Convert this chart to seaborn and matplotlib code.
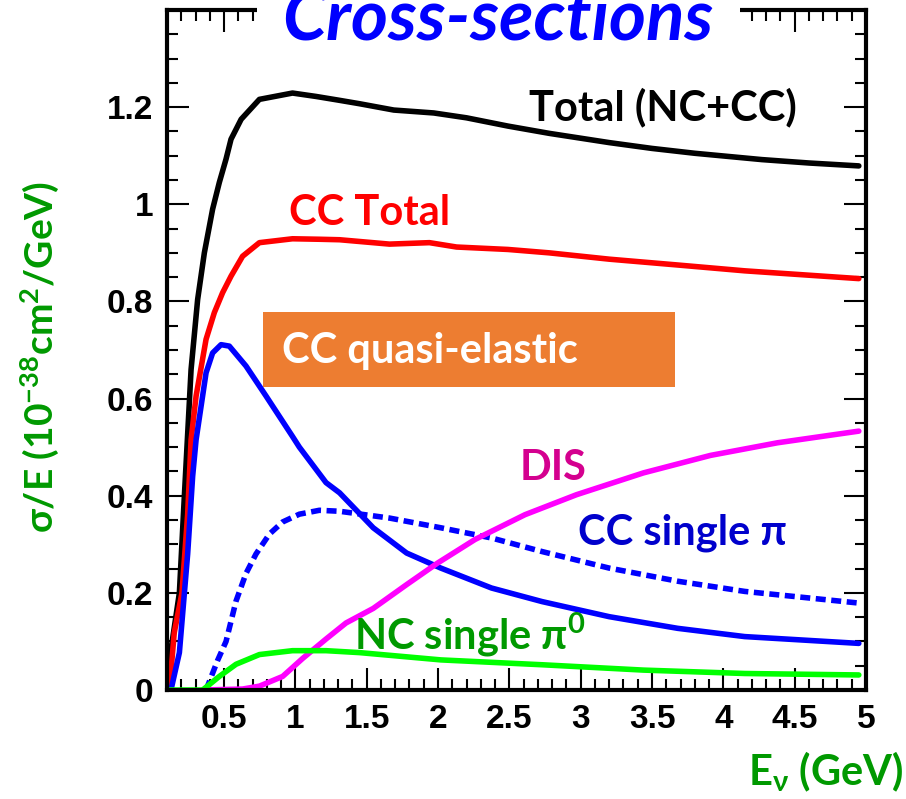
import matplotlib
matplotlib.use("Agg")
import matplotlib.pyplot as plt
import numpy as np
import pandas as pd
import seaborn as sns
from matplotlib.ticker import MultipleLocator, FuncFormatter
from matplotlib.patches import Rectangle

# neutrino cross-sections, sigma/E in 1e-38 cm^2/GeV
total_x = [0.10, 0.117, 0.187, 0.222, 0.269, 0.315, 0.362, 0.42, 0.467, 0.514, 0.549, 0.62, 0.748,
           0.98, 1.145, 1.31, 1.45, 1.69, 1.97, 2.2, 2.49, 2.78, 3.2, 3.5, 3.8, 4.27, 4.6, 4.95]
total_y = [0.03, 0.061, 0.20, 0.40, 0.66, 0.804, 0.90, 0.99, 1.045, 1.093, 1.134, 1.175, 1.216,
           1.229, 1.222, 1.214, 1.207, 1.194, 1.188, 1.178, 1.161, 1.146, 1.127, 1.115, 1.105, 1.092, 1.085, 1.079]

cc_x = [0.117, 0.151, 0.205, 0.245, 0.269, 0.304, 0.374, 0.432, 0.49, 0.549, 0.63, 0.748, 0.98,
        1.168, 1.31, 1.66, 1.94, 2.13, 2.49, 2.78, 3.2, 3.68, 4.15, 4.95]
cc_y = [0.0, 0.118, 0.20, 0.362, 0.515, 0.605, 0.722, 0.777, 0.818, 0.852, 0.893, 0.921, 0.929,
        0.928, 0.927, 0.918, 0.921, 0.912, 0.907, 0.90, 0.887, 0.875, 0.863, 0.847]

qe_x = [0.128, 0.187, 0.245, 0.28, 0.304, 0.374, 0.42, 0.479, 0.537, 0.654, 0.795, 0.864, 0.98,
        1.028, 1.215, 1.31, 1.546, 1.78, 2.02, 2.375, 2.73, 3.2, 3.68, 4.15, 4.95]
qe_y = [0.0, 0.077, 0.28, 0.44, 0.515, 0.653, 0.694, 0.711, 0.708, 0.667, 0.605, 0.574, 0.522,
        0.50, 0.427, 0.406, 0.334, 0.282, 0.251, 0.21, 0.182, 0.151, 0.127, 0.11, 0.096]

pi_x = [0.374, 0.455, 0.514, 0.584, 0.654, 0.724, 0.818, 0.911, 1.028, 1.168, 1.31, 1.66,
        2.02, 2.375, 2.73, 3.2, 3.68, 4.15, 4.95]
pi_y = [0.0, 0.061, 0.10, 0.183, 0.24, 0.28, 0.321, 0.346, 0.362, 0.37, 0.368, 0.354,
        0.334, 0.313, 0.285, 0.251, 0.224, 0.203, 0.179]

dis_x = [0.35, 0.63, 0.748, 0.911, 1.051, 1.215, 1.355, 1.546, 1.78, 1.995, 2.26, 2.61,
         2.97, 3.44, 3.91, 4.38, 4.95]
dis_y = [0.0, 0.002, 0.008, 0.028, 0.065, 0.105, 0.138, 0.168, 0.217, 0.261, 0.31, 0.361,
         0.402, 0.447, 0.483, 0.509, 0.533]

nc_x = [0.10, 0.35, 0.467, 0.584, 0.748, 0.98, 1.215, 1.45, 2.02, 2.73, 3.44, 4.15, 4.95]
nc_y = [0.0, 0.0, 0.028, 0.053, 0.073, 0.081, 0.081, 0.077, 0.062, 0.052, 0.041, 0.034, 0.031]

sns.set_style("ticks")
plt.rcParams['font.family'] = ['Lato', 'DejaVu Sans']
plt.rcParams['mathtext.fontset'] = 'custom'
plt.rcParams['mathtext.rm'] = 'Lato:bold'
plt.rcParams['mathtext.it'] = 'Lato:bold:italic'
plt.rcParams['mathtext.bf'] = 'Lato:bold'
plt.rcParams['mathtext.default'] = 'rm'

fig = plt.figure(figsize=(9.06, 7.99), dpi=100)
ax = fig.add_axes([0.1843, 0.1364, 0.7715, 0.8511])

lw = 4
sns.lineplot(x=total_x, y=total_y, ax=ax, color='black', lw=lw, sort=False)
sns.lineplot(x=cc_x, y=cc_y, ax=ax, color='#ff0000', lw=lw, sort=False)
sns.lineplot(x=qe_x, y=qe_y, ax=ax, color='#0000ff', lw=lw, sort=False)
ax.plot(pi_x, pi_y, color='#0000ff', lw=lw, linestyle=(0, (1.8, 1.0)), dash_capstyle='butt')
sns.lineplot(x=dis_x, y=dis_y, ax=ax, color='#ff00ff', lw=lw, sort=False)
sns.lineplot(x=nc_x, y=nc_y, ax=ax, color='#00ff00', lw=lw, sort=False)

ax.set_xlim(0.1, 5.0)
ax.set_ylim(0, 1.4)
ax.xaxis.set_major_locator(MultipleLocator(0.5))
ax.xaxis.set_minor_locator(MultipleLocator(0.1))
ax.yaxis.set_major_locator(MultipleLocator(0.2))
ax.yaxis.set_minor_locator(MultipleLocator(0.05))
fmt = FuncFormatter(lambda v, p: '%g' % round(v, 2))
ax.xaxis.set_major_formatter(fmt)
ax.yaxis.set_major_formatter(fmt)
ax.set_yticks([0, 0.2, 0.4, 0.6, 0.8, 1.0, 1.2])
ax.tick_params(which='both', direction='in', top=True, right=True, width=1.5,
               color='black', labelcolor='black')
ax.tick_params(which='major', length=16, pad=10)
ax.tick_params(which='minor', length=8)
for lab in ax.get_xticklabels() + ax.get_yticklabels():
    lab.set_fontfamily('Liberation Sans')
    lab.set_fontweight('bold')
    lab.set_fontsize(24)
for s in ax.spines.values():
    s.set_linewidth(3)
    s.set_color('black')
ax.set_xlabel('')
ax.set_ylabel('')

lab_fs = 30
ax.text(2.64, 1.2, 'Total (NC+CC)', color='black', fontsize=lab_fs, fontweight='bold', va='center')
ax.text(0.958, 0.983, 'CC Total', color='#ff0000', fontsize=lab_fs, fontweight='bold', va='center')
ax.add_patch(Rectangle((0.77, 0.623), 2.89, 0.156, facecolor='#ed7d31', edgecolor='none', zorder=4))
ax.text(0.909, 0.697, 'CC quasi-elastic', color='white', fontsize=lab_fs, fontweight='bold',
        va='center', zorder=5)
ax.text(2.57, 0.458, 'DIS', color='#d4008f', fontsize=lab_fs, fontweight='bold', va='center')
ax.text(2.98, 0.324, 'CC single π', color='#0000cc', fontsize=lab_fs, fontweight='bold', va='center')
ax.text(1.41, 0.113, 'NC single π$^{0}$', color='#009900', fontsize=lab_fs, fontweight='bold', va='center')

# white patch hiding the top frame behind the title
fig.patches.append(Rectangle((257 / 906, 1 - 36 / 799), 483 / 906, 36 / 799,
                             transform=fig.transFigure, facecolor='white', edgecolor='none',
                             zorder=3))
fig.text(0.549, 0.951, 'Cross-sections', color='#0000ff', fontsize=51, fontweight='bold',
         fontstyle='italic', ha='center', va='baseline', zorder=4)
fig.text(0.044, 0.553, 'σ/E (10$^{-38}$cm$^{2}$/GeV)', color='#009900', fontsize=28,
         fontweight='bold', rotation=90, ha='center', va='center')
fig.text(0.997, 0.034, 'E$_{\\nu}$ (GeV)', color='#009900', fontsize=30, fontweight='bold',
         ha='right', va='center')

fig.savefig('out.png', dpi=100)
